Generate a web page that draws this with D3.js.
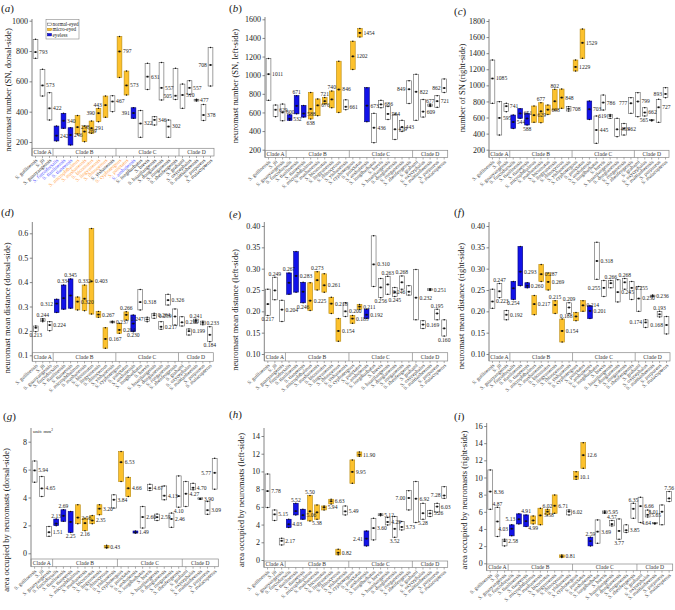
<!DOCTYPE html>
<html><head><meta charset="utf-8">
<script src="https://cdn.jsdelivr.net/npm/d3@7"></script>
<style>body{margin:0;background:#fff} svg{display:block} text{font-family:"Liberation Serif","Times New Roman",serif}</style>
</head><body><svg id="c" width="675" height="610"></svg>
<script>
const species = ["S. guilinensis","S. jii","S. guanyangensis","S. furcodorsalis","S. tianlinensis","S. tianeensis","S. microphthalmus","S. mashanensis","S. bicornutus","S. lingyunensis","S. rhinocerous","S. yishanensis","S. cyphotergous","S. punctatus","S. anshuiensis","S. longibarbatus","S. brevis","S. huanjiangensis","S. donglanensis","S. ronganensis","S. zhenfengensis","S. grahami","S. oxycephalus","S. maitianheensis","S. purpureus","S. malacopterus"];
const eyeType = ["n","n","n","e","e","e","m","m","m","m","m","n","m","m","e","n","n","n","n","n","n","n","n","n","n","n"];
const clades = ["Clade A","Clade B","Clade C","Clade D"];
const cladeSizes = [3,9,9,5];
const legendLabels = ["normal-eyed","micro-eyed","eyeless"];

const aMin = [752,503,345,207,290,180,253,202,257,334,363,400,626,510,356,231,547,312,477,231,481,422,514,470,341,569];
const aMax = [877,679,525,305,389,294,374,305,338,422,503,505,895,668,426,407,719,367,725,345,686,582,604,482,448,824];
const aMean = [793,573,422,242,340,246,298,269,291,390,443,467,797,573,391,322,631,346,557,302,505,510,557,477,378,708];

const bMin = [730,555,510,515,585,550,530,565,690,650,600,630,1060,1410,500,275,650,525,310,395,695,515,550,665,655,815];
const bMax = [1180,680,690,575,780,675,815,745,760,830,1150,735,1365,1500,866,590,730,665,580,515,940,1010,740,690,780,960];
const bMean = [1011,629,600,532,671,588,638,676,721,740,846,661,1202,1454,673,436,686,584,419,443,849,822,609,677,721,862];

const cMin = [776,382,673,465,590,507,540,536,639,693,714,681,1178,1336,577,279,693,590,362,382,652,610,619,560,540,847];
const cMax = [1315,797,776,631,710,652,743,784,755,950,954,735,1315,1700,805,619,880,639,590,527,847,909,722,570,826,971];
const cMean = [1085,595,741,544,651,588,629,677,698,802,848,708,1229,1529,703,445,786,619,453,462,777,799,662,565,727,893];

const dMin = [0.197,0.238,0.201,0.275,0.289,0.293,0.286,0.283,0.269,0.256,0.129,0.233,0.190,0.245,0.197,0.286,0.238,0.252,0.207,0.306,0.224,0.220,0.183,0.233,0.225,0.156];
const dMax = [0.220,0.250,0.238,0.330,0.388,0.413,0.339,0.388,0.620,0.279,0.213,0.240,0.231,0.278,0.265,0.370,0.256,0.272,0.238,0.350,0.290,0.258,0.208,0.248,0.240,0.217];
const dMean = [0.213,0.244,0.224,0.312,0.334,0.345,0.320,0.332,0.403,0.267,0.167,0.237,0.204,0.266,0.230,0.318,0.247,0.264,0.217,0.326,0.259,0.235,0.199,0.241,0.233,0.184];

const eMin = [0.190,0.227,0.176,0.240,0.245,0.220,0.202,0.250,0.245,0.195,0.130,0.188,0.172,0.205,0.183,0.258,0.232,0.240,0.235,0.252,0.238,0.180,0.160,0.249,0.180,0.142];
const eMax = [0.252,0.280,0.226,0.290,0.340,0.268,0.267,0.293,0.288,0.233,0.183,0.220,0.190,0.216,0.205,0.377,0.277,0.282,0.256,0.283,0.260,0.298,0.178,0.253,0.205,0.180];
const eMean = [0.217,0.249,0.204,0.267,0.283,0.246,0.225,0.273,0.261,0.218,0.154,0.200,0.183,0.211,0.192,0.310,0.256,0.263,0.245,0.268,0.246,0.232,0.169,0.251,0.195,0.160];

const fMin = [0.207,0.232,0.180,0.228,0.260,0.255,0.192,0.270,0.250,0.195,0.128,0.195,0.178,0.200,0.183,0.275,0.235,0.255,0.222,0.252,0.228,0.200,0.162,0.234,0.187,0.147];
const fMax = [0.252,0.265,0.202,0.270,0.352,0.267,0.237,0.310,0.290,0.225,0.182,0.220,0.197,0.225,0.213,0.362,0.272,0.272,0.274,0.277,0.270,0.258,0.180,0.238,0.200,0.188];
const fMean = [0.223,0.247,0.192,0.254,0.293,0.260,0.217,0.287,0.269,0.215,0.154,0.209,0.188,0.214,0.201,0.318,0.255,0.266,0.245,0.268,0.255,0.230,0.174,0.236,0.193,0.168];

const gMin = [5.10,4.07,1.22,1.98,2.29,1.50,2.12,1.62,2.12,2.76,0.38,3.24,5.14,4.07,1.45,1.81,4.50,2.36,3.83,1.86,3.31,3.36,4.55,3.88,2.80,4.60];
const gMax = [6.62,5.50,1.93,2.45,3.12,3.00,3.48,2.52,2.71,3.48,0.57,4.19,7.29,5.45,1.60,3.36,4.95,2.81,4.83,2.88,5.55,5.14,5.02,3.93,3.72,6.81];
const gMean = [5.94,4.65,1.51,2.13,2.69,2.25,2.56,2.16,2.35,3.20,0.43,3.84,6.53,4.66,1.49,2.60,4.67,2.59,4.13,2.46,4.10,4.27,4.70,3.90,3.09,5.77];

const hMin = [5.92,4.45,1.70,3.66,5.09,4.60,4.41,4.60,5.65,6.33,0.58,5.09,8.66,11.7,1.59,2.27,5.00,3.96,2.57,3.40,5.65,4.22,4.60,4.90,5.40,6.97];
const hMax = [9.71,5.65,2.46,4.60,6.40,5.73,7.27,6.22,6.10,6.86,1.22,6.10,11.3,12.2,3.28,4.71,5.22,4.80,4.90,4.34,7.83,8.85,6.40,5.58,6.40,8.28];
const hMean = [7.78,5.15,2.17,4.03,5.52,5.06,5.50,5.38,5.94,6.63,0.82,5.49,9.95,11.90,2.41,3.60,5.12,4.29,3.52,3.73,7.00,6.92,5.28,5.26,6.03,7.28];

const iMin = [6.30,3.12,2.03,3.20,4.59,4.28,4.59,4.48,5.64,5.83,0.67,5.64,9.79,11.07,2.03,2.34,5.83,4.36,2.81,3.58,5.25,4.75,5.40,4.60,4.48,7.20];
const iMax = [10.88,6.53,2.81,4.48,5.76,5.64,5.52,6.42,6.30,7.97,0.98,6.22,10.68,14.06,3.04,5.06,6.10,4.98,5.17,4.48,7.00,7.70,6.20,4.68,6.80,8.36];
const iMean = [8.36,4.87,2.58,4.03,5.13,4.91,4.99,5.58,6.02,6.71,0.81,6.02,10.1,12.6,2.59,3.69,5.95,4.57,3.77,3.85,6.35,6.66,5.65,4.64,6.01,7.56];

const ticksA = [200,400,600,800,1000];
const ticksB = [200,400,600,800,1000,1200,1400,1600];
const ticksC = [200,400,600,800,1000,1200,1400,1600,1800];
const ticksD = [0.1,0.2,0.3,0.4,0.5,0.6];
const ticksEF = [0.10,0.15,0.20,0.25,0.30,0.35,0.40];
const ticksG = [0,2,4,6,8];
const ticksH = [0,2,4,6,8,10,12,14];
const ticksI = [0,2,4,6,8,10,12,14,16];

const fInt = d3.format("d"), f1 = d3.format(".1f"), f2 = d3.format(".2f"), f3 = d3.format(".3f");
const fI = v => v >= 10 ? v.toFixed(1) : v.toFixed(2);

// layout: value-label placement per box (r=right, l=left, t=top, b=bottom)
const panels = [
 {tag:"a", title:"neuromast number (SN, dorsal-side)", mn:aMin, mx:aMax, me:aMean, ticks:ticksA, tf:fInt, lf:fInt, ref:[[1000,20.7],[200,142]], top:19, bTop:148.3, bBot:156, x0:32, x1:214, tx:8, ty:90, lx:1, ly:12, colored:true, legend:true, pos:"rrrrrrrrrllrrrlrrrrrlrrrrl"},
 {tag:"b", title:"neuromast number (SN, left-side)", mn:bMin, mx:bMax, me:bMean, ticks:ticksB, tf:fInt, lf:fInt, ref:[[1600,19.3],[200,149.7]], top:17, bTop:150.3, bBot:157.5, x0:265, x1:447.7, tx:235, ty:86, lx:229, ly:12, pos:"rrrrtrbrttrrrrrrrrrrlrrtrl"},
 {tag:"c", title:"number of SN (right-side)", mn:cMin, mx:cMax, me:cMean, ticks:ticksC, tf:fInt, lf:fInt, ref:[[1800,21],[200,149.7]], top:19, bTop:150.3, bBot:157.5, x0:489, x1:669, tx:462, ty:88, lx:454, ly:15, pos:"rrrrrbrtrtrrrrrrrlrrlrrlrl"},
 {tag:"d", title:"neuromast mean distance (dorsal-side)", mn:dMin, mx:dMax, me:dMean, ticks:ticksD, tf:f1, lf:f3, ref:[[0.6,233.3],[0.1,355.3]], top:222, bTop:352.7, bBot:361.3, x0:32.3, x1:213.3, tx:7, ty:308, lx:1, ly:216, pos:"btrlttrtrrrrrtbrlrrrlrrtrb"},
 {tag:"e", title:"neuromast mean distance (left-side)", mn:eMin, mx:eMax, me:eMean, ticks:ticksEF, tf:f2, lf:f3, ref:[[0.40,226],[0.10,354]], top:222, bTop:352.7, bBot:361, x0:264.3, x1:447.7, tx:235, ty:310, lx:229, ly:218, pos:"btrtrbrtrrrrrrrrbtbtlrrrtb"},
 {tag:"f", title:"neuromast mean distance (right-side)", mn:fMin, mx:fMax, me:fMean, ticks:ticksEF, tf:f2, lf:f3, ref:[[0.40,226],[0.10,354]], top:222, bTop:352.7, bBot:361, x0:489, x1:670, tx:461, ty:306, lx:454, ly:216, pos:"rtrbrrrrrtrtlrrrltrtrrlrtl"},
 {tag:"g", title:"area occupied by neuromasts (dorsal-side)", mn:gMin, mx:gMax, me:gMean, ticks:ticksG, tf:fInt, lf:f2, ref:[[8,441.7],[0,553.3]], top:428, bTop:559, bBot:566.7, x0:31, x1:218.3, tx:6, ty:520, lx:3, ly:420, unit:true, pos:"rrrttbrbrrrrrrrrrrrrbrrrrl"},
 {tag:"h", title:"area occupied by neuromasts (left-side)", mn:hMin, mx:hMax, me:hMean, ticks:ticksH, tf:fInt, lf:f2, ref:[[14,436],[0,560]], top:428, bTop:561, bBot:567.5, x0:264, x1:447.7, tx:241, ty:500, lx:229, ly:418, pos:"rrrrtrtbrrrrrrlrrrbrlrbrrl"},
 {tag:"i", title:"area occupied by neuromasts (right-side)", mn:iMin, mx:iMax, me:iMean, ticks:ticksI, tf:fInt, lf:fI, ref:[[16,426],[0,563.3]], top:423, bTop:564, bBot:570.7, x0:486.7, x1:672.7, tx:464, ty:500, lx:454, ly:420, pos:"rtrlltbrtrrrrrtrrtbrtrrlrt"}
];

const fillC = {n:"#ffffff", m:"#fcc12d", e:"#1212e8"};
const strokeC = {n:"#5e5e5e", m:"#b88a10", e:"#000080"};
const labelC = {n:"#222", m:"#ff9d40", e:"#4d4dff"};
const svg = d3.select("#c");

panels.forEach(p => {
  const g = svg.append("g");
  const yRef = d3.scaleLinear().domain([p.ref[0][0], p.ref[1][0]]).range([p.ref[0][1], p.ref[1][1]]);
  const y = d3.scaleLinear().domain([yRef.invert(p.bTop), yRef.invert(p.top)]).range([p.bTop, p.top]);
  const x = d3.scaleBand().domain(species).range([p.x0, p.x1]).paddingInner(0.32).paddingOuter(0.16);
  const bw = x.bandwidth(), step = x.step();

  const ax = g.append("g").attr("transform", `translate(${p.x0},0)`)
    .call(d3.axisLeft(y).tickValues(p.ticks).tickSize(2.5).tickPadding(1.5).tickFormat(p.tf));
  ax.select(".domain").remove();
  ax.selectAll("line").attr("stroke", "#555").attr("stroke-width", 0.7);
  ax.selectAll("text").attr("font-size", 8).attr("fill", "#222").attr("font-family", "Liberation Serif, serif");
  g.append("line").attr("x1", p.x0).attr("x2", p.x0).attr("y1", p.top).attr("y2", p.bBot)
    .attr("stroke", "#666").attr("stroke-width", 0.8);

  g.append("rect").attr("x", p.x0).attr("y", p.bTop).attr("width", p.x1 - p.x0).attr("height", p.bBot - p.bTop)
    .attr("fill", "none").attr("stroke", "#888").attr("stroke-width", 0.7);
  let start = 0;
  clades.forEach((c, k) => {
    const xa = x(species[start]) - step * 0.16;
    const xb = x(species[start + cladeSizes[k] - 1]) + bw + step * 0.16;
    if (k > 0) g.append("line").attr("x1", xa).attr("x2", xa).attr("y1", p.bTop).attr("y2", p.bBot).attr("stroke", "#888").attr("stroke-width", 0.7);
    g.append("text").attr("x", (xa + xb) / 2).attr("y", (p.bTop + p.bBot) / 2).attr("dy", "0.35em")
      .attr("text-anchor", "middle").attr("font-size", 5.6).attr("fill", "#333").text(c);
    start += cladeSizes[k];
  });

  species.forEach((s, i) => {
    const cx = x(s) + bw / 2;
    g.append("line").attr("x1", cx).attr("x2", cx).attr("y1", p.bBot).attr("y2", p.bBot + 2).attr("stroke", "#777").attr("stroke-width", 0.6);
    g.append("text").attr("transform", `translate(${cx + 1},${p.bBot + 3.5}) rotate(-42)`)
      .attr("text-anchor", "end").attr("dy", "0.35em").attr("font-size", 5.2)
      .attr("fill", p.colored ? labelC[eyeType[i]] : "#333").text(s);
  });

  species.forEach((s, i) => {
    const t = eyeType[i];
    const yt = y(p.mx[i]), yb = y(p.mn[i]), ym = y(p.me[i]);
    const h = Math.max(1.4, yb - yt);
    g.append("rect").attr("x", x(s)).attr("y", yb - h).attr("width", bw).attr("height", h)
      .attr("fill", fillC[t]).attr("stroke", strokeC[t]).attr("stroke-width", 0.6);
    const cx = x(s) + bw / 2;
    [yt, yb].forEach(yy => g.append("circle").attr("cx", cx).attr("cy", yy).attr("r", 0.75).attr("fill", "#111"));
    g.append("line").attr("x1", x(s) + 0.6).attr("x2", x(s) + bw - 0.6).attr("y1", ym).attr("y2", ym).attr("stroke", "#111").attr("stroke-width", 0.5);
    g.append("rect").attr("x", cx - 0.9).attr("y", ym - 0.9).attr("width", 1.8).attr("height", 1.8).attr("fill", "#111");
  });

  species.forEach((s, i) => {
    const txt = p.lf(p.me[i]);
    let mode = p.pos[i];
    const estW = txt.length * 2.8;
    if (mode === "r" && x(s) + bw + 1.2 + estW > 674) mode = "l";
    const cx = x(s) + bw / 2;
    let tx = x(s) + bw + 1.2, ty = y(p.me[i]), anchor = "start";
    if (mode === "l") { tx = x(s) - 1.2; anchor = "end"; }
    if (mode === "t") { tx = cx; ty = Math.min(y(p.mx[i]), y(p.me[i])) - 3.5; anchor = "middle"; }
    if (mode === "b") { tx = cx; ty = Math.max(y(p.mn[i]), y(p.me[i])) + 3.8; anchor = "middle"; }
    g.append("text").attr("x", tx).attr("y", ty).attr("dy", "0.35em").attr("text-anchor", anchor)
      .attr("font-size", 5.6).attr("fill", "#222").text(txt);
  });

  g.append("text").attr("transform", `translate(${p.tx},${p.ty}) rotate(-90)`).attr("text-anchor", "middle")
    .attr("dy", "0.35em").attr("font-size", 8.5).attr("fill", "#222").text(p.title);
  const pl = g.append("text").attr("x", p.lx).attr("y", p.ly).attr("font-size", 11).attr("fill", "#222");
  pl.append("tspan").text("(");
  pl.append("tspan").attr("font-style", "italic").text(p.tag);
  pl.append("tspan").text(")");

  if (p.unit) {
    const u = g.append("text").attr("x", p.x0 + 2).attr("y", p.top + 4.5).attr("font-size", 5).attr("fill", "#222");
    u.append("tspan").text("unit: mm");
    u.append("tspan").attr("font-size", 3.5).attr("dy", -2).text("2");
  }

  if (p.legend) {
    const lg = g.append("g").attr("transform", "translate(46,19.5)");
    lg.append("rect").attr("width", 33).attr("height", 19.5).attr("fill", "#fff").attr("stroke", "#888").attr("stroke-width", 0.6);
    ["n", "m", "e"].forEach((t, k) => {
      lg.append("rect").attr("x", 1.5).attr("y", 3.6 + k * 5.2).attr("width", 4).attr("height", 2.4)
        .attr("fill", fillC[t]).attr("stroke", strokeC[t]).attr("stroke-width", 0.5);
      lg.append("text").attr("x", 6.5).attr("y", 4.8 + k * 5.2).attr("dy", "0.35em").attr("font-size", 5.2)
        .attr("fill", "#222").text(legendLabels[k]);
    });
  }
});
</script></body></html>
